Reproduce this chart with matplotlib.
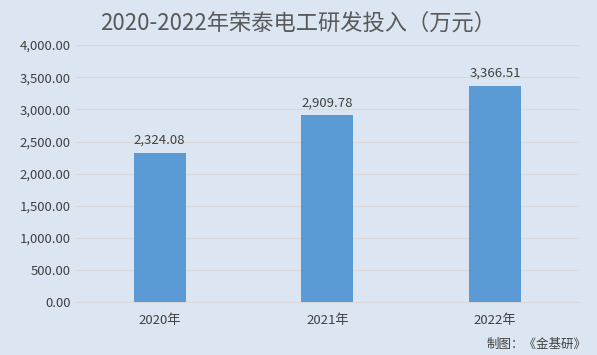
import matplotlib.pyplot as plt

plt.rcParams['font.family'] = ['Noto Sans CJK SC', 'DejaVu Sans']

years = ['2020年', '2021年', '2022年']
spend = [2324.08, 2909.78, 3366.51]
yticks = [0, 500, 1000, 1500, 2000, 2500, 3000, 3500, 4000]

bg = '#dce6f2'
fig = plt.figure(figsize=(5.97, 3.55), dpi=100, facecolor=bg)
ax = fig.add_axes([0.127, 0.148, 0.843, 0.725], facecolor=bg)

x = range(len(years))
ax.bar(x, spend, width=0.31, color='#5b9bd5', zorder=3)
for i, v in zip(x, spend):
    ax.text(i, v + 90, f'{v:,.2f}', ha='center', va='bottom',
            fontsize=9.5, color='#404040')

ax.set_xlim(-0.5, len(years) - 0.5)
ax.set_ylim(0, 4000)
ax.set_yticks(yticks)
ax.set_yticklabels([f'{t:,.2f}' for t in yticks])
ax.set_xticks(list(x))
ax.set_xticklabels(years)
ax.tick_params(axis='both', length=0, labelsize=9.5, labelcolor='#404040')
ax.tick_params(axis='x', pad=8)
ax.grid(axis='y', color='#d9d9d9', linewidth=0.8, zorder=0)
for s in ['top', 'right', 'left']:
    ax.spines[s].set_visible(False)
ax.spines['bottom'].set_color('#d9d9d9')

fig.text(0.5, 0.935, '2020-2022年荣泰电工研发投入（万元）', ha='center', va='center',
         fontsize=16, color='#595959')
fig.text(0.815, 0.03, '制图：《金基研》', ha='left', va='center',
         fontsize=9, color='#404040')

fig.savefig('out.png', dpi=100, facecolor=bg)
